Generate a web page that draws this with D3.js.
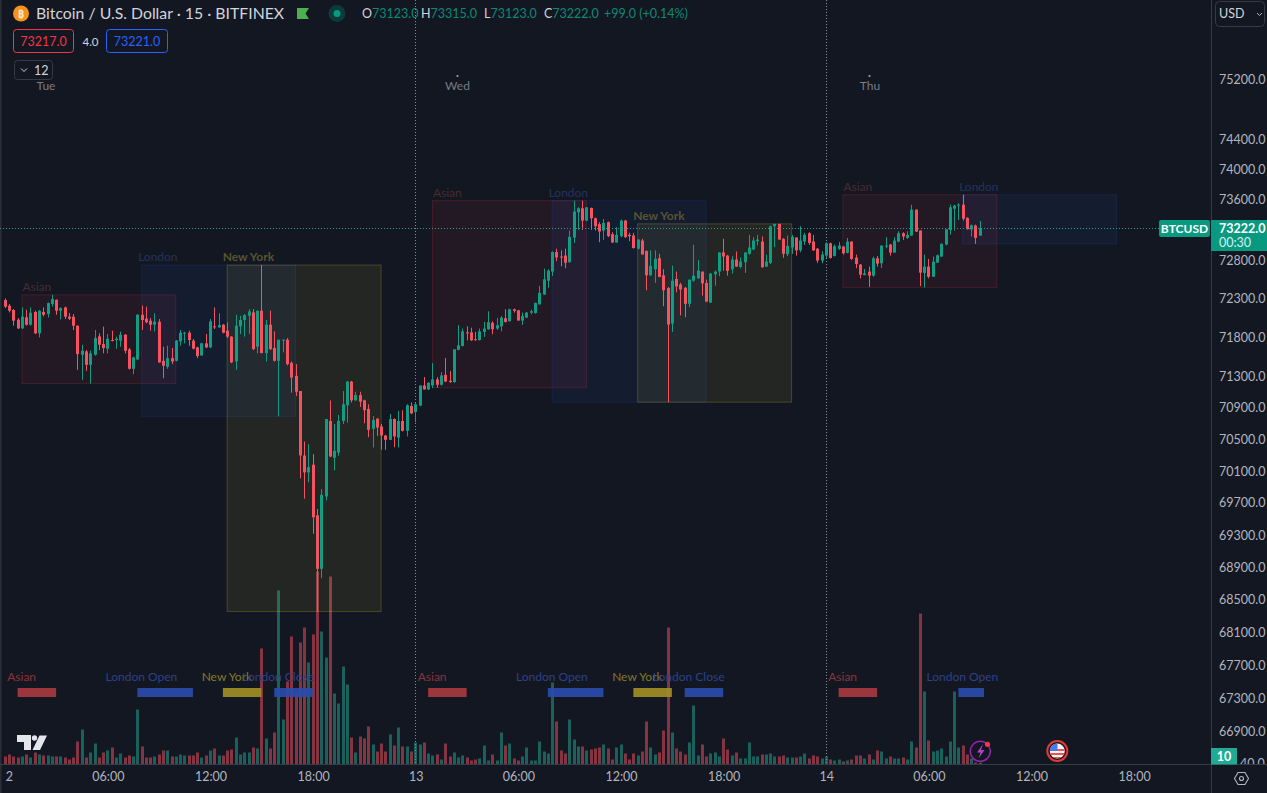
<!DOCTYPE html>
<html>
<head>
<meta charset="utf-8">
<title>BTCUSD 15</title>
<script src="https://cdn.jsdelivr.net/npm/d3@7"></script>
<style>
  html, body { margin: 0; padding: 0; background: #131722; overflow: hidden; }
  text { font-family: Lato, "Noto Sans", sans-serif; }
</style>
</head>
<body>
<main></main>
<script>
const opens = [
  72283,72210,72154,72029,71917,72059,71964,72128,71853,72128,
  72102,72231,72287,72145,72188,72068,72068,71952,71577,71620,
  71448,71577,71814,71715,71655,71767,71767,71758,71835,71646,
  71397,71517,72093,72042,72016,71964,72003,71500,71423,71534,
  71500,71749,71853,71861,71758,71672,71569,71724,71672,71943,
  71930,71964,71887,71810,71491,71943,72025,72080,72124,71681,
  72145,71599,71964,71663,71500,71767,71771,71474,71307,71113,
  70296,70083,70179,69545,68881,69782,70732,70266,70333,70732,
  70932,71233,70994,71061,70994,70885,70632,70761,70662,70548,
  70493,70757,70522,70732,70607,70923,70847,70928,71184,71133,
  71184,71261,71193,71320,71244,71227,71640,71690,71865,71865,
  71776,71767,71871,71905,71988,71914,71943,72048,72009,72163,
  72150,72018,72056,72120,72116,72228,72355,72535,72653,72908,
  72850,72862,72775,73098,73430,73483,73321,73487,73352,73273,
  73190,73300,73142,73033,73116,73321,73133,73125,72952,73059,
  72921,72605,72684,72828,72605,72440,71978,72557,72485,72443,
  72234,72535,72565,72653,72505,72250,72618,72653,72903,72862,
  72684,72810,72714,72775,72885,72941,73050,73046,72718,72766,
  73247,73278,73081,72880,72968,73098,72930,73046,73155,73046,
  72952,72796,72862,73023,72857,72949,72980,72897,73045,72835,
  72744,72608,72652,72600,72827,72761,72984,73006,72901,73045,
  73155,73093,73124,73465,73190,72635,72718,72586,72770,72849,
  73006,73198,73478,73517,73530,73356,73203,73255,73123
];
const highs = [
  72304,72231,72167,72050,72188,72158,72188,72145,72154,72188,
  72252,72351,72291,72188,72197,72115,72102,71952,71706,71638,
  71629,71896,71853,71939,71844,71887,71810,71874,71844,71663,
  71552,72102,72210,72197,72050,72111,72037,71681,71693,71663,
  71767,71896,71874,71887,71780,71681,71732,71844,72038,72188,
  72111,71973,71995,71818,72093,72080,72102,72166,72166,72145,
  72738,72025,72145,71878,71771,71775,71792,71491,71457,71113,
  70472,70438,70313,69624,69874,70757,70994,70694,70808,71113,
  71242,71242,71104,71104,71003,70944,70795,70769,70694,70556,
  70820,70766,70860,70869,70944,70968,70960,71184,71291,71227,
  71471,71291,71355,71535,71368,71647,71957,71914,71943,71926,
  71871,71914,72000,72138,72009,72052,72074,72163,72172,72172,
  72155,72120,72130,72159,72250,72466,72692,72684,72917,72952,
  72930,72952,73190,73583,73496,73583,73496,73492,73361,73300,
  73343,73308,73168,73234,73335,73330,73160,73160,73072,73081,
  72930,72930,72930,72885,72684,72453,72731,72653,72507,72453,
  72548,73002,72806,72653,72548,72636,72666,72903,73081,72871,
  72854,72915,72836,72906,73133,73103,73133,73112,72873,73256,
  73278,73278,73090,73125,73133,73103,73247,73160,73168,73133,
  72961,72919,73037,73032,73006,73041,72989,73093,73050,72875,
  72752,72687,72718,72849,72857,72993,73102,73015,73102,73181,
  73168,73181,73530,73469,73190,72875,72818,72849,72875,73023,
  73211,73530,73530,73552,73661,73364,73268,73268,73315
];
const lows = [
  72179,72123,71952,71908,71908,71952,71952,71844,71801,72072,
  72059,72197,72093,72033,72037,72025,71896,71384,71255,71371,
  71208,71565,71638,71595,71595,71749,71655,71681,71595,71388,
  71328,71509,71896,71982,71887,71878,71474,71276,71397,71457,
  71491,71693,71724,71693,71646,71534,71565,71663,71663,71909,
  71921,71853,71792,71470,71384,71844,71810,71844,71638,71595,
  71595,71491,71638,71491,70790,71608,71440,71092,71048,70009,
  69753,69958,69315,68355,68764,69731,70274,70107,70292,70694,
  70710,70968,70990,70910,70703,70527,70396,70544,70367,70367,
  70489,70400,70396,70599,70536,70820,70716,70920,71133,71125,
  71150,71155,71184,71227,71218,71218,71636,71686,71763,71755,
  71759,71759,71806,71897,71841,71897,71879,71992,72005,72120,
  72015,71962,72050,72100,72107,72224,72350,72443,72595,72790,
  72722,72696,72770,73028,73199,73199,73312,73199,73190,73037,
  73068,73103,73028,73028,73103,73094,73050,72952,72943,72873,
  72410,72600,72506,72579,72203,70971,71871,72385,72083,72061,
  72190,72522,72557,72341,72255,72246,72470,72592,72666,72600,
  72627,72714,72696,72636,72873,72937,72994,72701,72714,72753,
  72972,73068,72832,72854,72885,72862,72906,73002,73002,72924,
  72766,72761,72831,72822,72849,72936,72875,72892,72805,72696,
  72565,72604,72455,72586,72718,72700,72958,72862,72897,73037,
  73067,73080,73120,73172,72464,72447,72565,72582,72766,72844,
  72997,73137,73190,73329,73321,73203,73111,73015,73123
];
const closes = [
  72197,72145,72016,71917,72068,71964,72119,71853,72145,72093,
  72244,72296,72145,72179,72068,72042,71952,71586,71629,71448,
  71595,71792,71706,71663,71784,71758,71784,71835,71629,71397,
  71543,72093,72025,71994,71964,72003,71478,71436,71534,71491,
  71758,71861,71861,71767,71655,71560,71724,71672,72007,71930,
  71960,71861,71810,71479,71952,72025,72089,72136,71650,72145,
  71599,71964,71650,71500,71771,71771,71457,71285,71104,70296,
  70083,70150,69520,68881,69802,70757,70283,70354,70732,70944,
  71233,70994,71061,70977,70869,70620,70744,70649,70548,70493,
  70757,70536,70732,70607,70932,70828,70944,71184,71133,71218,
  71261,71193,71312,71235,71227,71647,71698,71879,71857,71763,
  71767,71879,71914,71996,71905,71957,72056,72000,72163,72142,
  72018,72075,72120,72138,72246,72376,72553,72666,72908,72838,
  72842,72768,73107,73440,73483,73321,73496,73352,73247,73177,
  73291,73116,73033,73133,73321,73103,73116,72961,73072,72877,
  72605,72727,72819,72583,72410,71965,72535,72460,72420,72234,
  72548,72600,72666,72500,72264,72627,72653,72903,72850,72662,
  72810,72718,72784,72903,72968,73059,73072,72710,72784,73247,
  73278,73072,72885,72989,73107,72930,73059,73133,73028,72930,
  72797,72875,73023,72831,72984,72993,72892,73045,72818,72752,
  72613,72630,72600,72827,72757,72993,72993,72901,73058,73155,
  73111,73133,73465,73176,72639,72718,72586,72783,72866,73015,
  73207,73495,73517,73530,73347,73207,73259,73093,73222
];
const volumes = [
  8,10,8,7,8,10,7,12,10,9,
  9,8,8,8,7,5,7,23,35,7,
  12,21,7,12,14,17,7,11,7,9,
  8,55,18,7,7,8,10,14,14,8,
  8,10,9,9,9,12,7,9,14,16,
  9,9,14,15,27,10,12,12,17,16,
  116,26,16,32,174,45,83,128,71,122,
  137,102,130,193,133,107,188,71,61,98,
  80,27,12,28,26,38,20,13,21,13,
  30,19,37,18,18,13,22,20,22,11,
  9,10,5,21,8,12,7,9,7,4,
  5,6,19,4,10,4,32,19,21,6,
  4,8,17,4,4,23,13,11,82,43,
  14,11,45,25,18,18,14,15,16,17,
  20,16,5,17,20,11,5,11,9,13,
  43,17,10,12,34,137,32,16,13,10,
  22,59,9,20,8,11,12,8,26,15,
  9,12,6,6,22,8,8,10,10,11,
  8,8,9,7,7,7,8,11,6,9,
  8,6,8,5,4,5,3,4,5,9,
  9,6,10,5,14,13,6,8,6,6,
  7,5,23,17,151,73,24,13,14,16,
  8,23,73,17,19,10,6,2,2
];

const priceTicks = [75200,74400,74000,73600,72800,72300,71800,71300,70900,70500,70100,69700,69300,68900,68500,68100,67700,67300,66900];
const timeTicks = ["2024-03-12T00:00Z","2024-03-12T06:00Z","2024-03-12T12:00Z","2024-03-12T18:00Z","2024-03-13T00:00Z","2024-03-13T06:00Z","2024-03-13T12:00Z","2024-03-13T18:00Z","2024-03-14T00:00Z","2024-03-14T06:00Z","2024-03-14T12:00Z","2024-03-14T18:00Z"];
const dayLines = ["2024-03-13T00:00Z","2024-03-14T00:00Z"];
const dayNames = ["Tue","Wed","Thu"];

// session boxes
const boxNames = ["Asian","London","New York","Asian","London","New York","Asian","London"];
const boxStarts = ["2024-03-12T01:00Z","2024-03-12T08:00Z","2024-03-12T13:00Z","2024-03-13T01:00Z","2024-03-13T08:00Z","2024-03-13T13:00Z","2024-03-14T01:00Z","2024-03-14T08:00Z"];
const boxEnds = ["2024-03-12T10:00Z","2024-03-12T17:00Z","2024-03-12T22:00Z","2024-03-13T10:00Z","2024-03-13T17:00Z","2024-03-13T22:00Z","2024-03-14T10:00Z","2024-03-14T17:00Z"];
const boxHighs = [72351,72738,72738,73583,73583,73278,73661,73661];
const boxLows = [71208,70790,68355,71155,70971,70971,72447,73015];

// session strips along the bottom
const stripNames = ["Asian","London Open","New York","London Close","Asian","London Open","New York","London Close","Asian","London Open"];
const stripStarts = ["2024-03-12T00:45Z","2024-03-12T07:45Z","2024-03-12T12:45Z","2024-03-12T15:45Z","2024-03-13T00:45Z","2024-03-13T07:45Z","2024-03-13T12:45Z","2024-03-13T15:45Z","2024-03-14T00:45Z","2024-03-14T07:45Z"];
const stripEnds = ["2024-03-12T03:00Z","2024-03-12T11:00Z","2024-03-12T15:00Z","2024-03-12T18:00Z","2024-03-13T03:00Z","2024-03-13T11:00Z","2024-03-13T15:00Z","2024-03-13T18:00Z","2024-03-14T03:00Z","2024-03-14T09:15Z"];

const w = 1267;
const h = 793;
const axisX = 1211;
const axisY = 764.5;
const upColor = "#0f9d83";
const downColor = "#f7525f";
const axisColor = "#363a45";
const textColor = "#b2b5be";

const boxStyle = {
  "Asian": { fill: "rgba(242,54,69,0.075)", stroke: "rgba(242,54,69,0.2)", text: "#4b2a33", weight: 400, dx: 0 },
  "London": { fill: "rgba(41,98,255,0.065)", stroke: "rgba(41,98,255,0.15)", text: "#24335e", weight: 400, dx: -4 },
  "New York": { fill: "rgba(255,235,59,0.07)", stroke: "rgba(255,235,59,0.2)", text: "#57542e", weight: 700, dx: -5 }
};
const stripStyle = {
  "Asian": { bar: "#a83a40", text: "#8b333b" },
  "London Open": { bar: "#2a4cab", text: "#2e4186" },
  "London Close": { bar: "#2a4cab", text: "#2e4186" },
  "New York": { bar: "#a08e24", text: "#85792a" }
};

const x = d3.scaleUtc()
  .domain([new Date("2024-03-12T00:00Z"), new Date("2024-03-14T00:00Z")])
  .range([5.3, 826.3]);
const y = d3.scaleLog()
  .domain([66900, 75200])
  .range([731.5, 79.5]);
const v = d3.scaleLinear()
  .domain([0, 200])
  .range([axisY, axisY - 200]);

const barTime = i => new Date(Date.UTC(2024, 2, 12) + i * 15 * 60000);
const barX = i => Math.floor(x(barTime(i)));
const isUp = i => closes[i] >= opens[i];

const svg = d3.select("main")
  .append("svg")
  .attr("width", w)
  .attr("height", h)
  .style("display", "block");

const defs = svg.append("defs");
defs.append("clipPath").attr("id", "plotClip")
  .append("rect").attr("x", 0).attr("y", 0).attr("width", axisX).attr("height", axisY);
defs.append("clipPath").attr("id", "timeClip")
  .append("rect").attr("x", 5).attr("y", axisY).attr("width", axisX - 5).attr("height", h - axisY);
defs.append("clipPath").attr("id", "priceClip")
  .append("rect").attr("x", axisX).attr("y", 0).attr("width", w - axisX).attr("height", axisY);
defs.append("clipPath").attr("id", "flagClip")
  .append("circle").attr("cx", 1057.3).attr("cy", 751).attr("r", 7.5);

svg.append("rect").attr("width", w).attr("height", h).attr("fill", "#131722");
svg.append("rect").attr("width", 1.5).attr("height", h).attr("fill", "#2a2e39");

const plot = svg.append("g").attr("clip-path", "url(#plotClip)");

// day separators
plot.selectAll(".day-line")
  .data(dayLines)
  .enter()
  .append("line")
  .attr("class", "day-line")
  .attr("x1", d => Math.floor(x(new Date(d))) + 0.5)
  .attr("x2", d => Math.floor(x(new Date(d))) + 0.5)
  .attr("y1", 0)
  .attr("y2", axisY)
  .attr("stroke", "#8a8d96")
  .attr("stroke-dasharray", "1 2");

// volume
plot.selectAll(".vol")
  .data(volumes)
  .enter()
  .append("rect")
  .attr("class", "vol")
  .attr("x", (d, i) => barX(i) - 1)
  .attr("y", d => v(d))
  .attr("width", 3)
  .attr("height", d => axisY - v(d))
  .attr("fill", (d, i) => isUp(i) ? "rgba(34,171,148,0.5)" : "rgba(247,82,95,0.5)");

// session boxes
plot.selectAll(".box")
  .data(boxNames)
  .enter()
  .append("rect")
  .attr("class", "box")
  .attr("x", (d, i) => x(new Date(boxStarts[i])) - 0.5)
  .attr("y", (d, i) => y(boxHighs[i]))
  .attr("width", (d, i) => x(new Date(boxEnds[i])) - x(new Date(boxStarts[i])))
  .attr("height", (d, i) => y(boxLows[i]) - y(boxHighs[i]))
  .attr("fill", d => boxStyle[d].fill)
  .attr("stroke", d => boxStyle[d].stroke);

plot.selectAll(".box-label")
  .data(boxNames)
  .enter()
  .append("text")
  .attr("class", "box-label")
  .attr("x", (d, i) => x(new Date(boxStarts[i])) + boxStyle[d].dx)
  .attr("y", (d, i) => y(boxHighs[i]) - 4)
  .attr("font-size", 12)
  .attr("font-weight", d => boxStyle[d].weight)
  .attr("fill", d => boxStyle[d].text)
  .text(d => d);

// wicks
plot.selectAll(".wick")
  .data(opens)
  .enter()
  .append("rect")
  .attr("class", "wick")
  .attr("x", (d, i) => barX(i))
  .attr("y", (d, i) => y(highs[i]))
  .attr("width", 1)
  .attr("height", (d, i) => y(lows[i]) - y(highs[i]))
  .attr("fill", (d, i) => isUp(i) ? upColor : downColor);

// bodies
plot.selectAll(".body")
  .data(opens)
  .enter()
  .append("rect")
  .attr("class", "body")
  .attr("x", (d, i) => barX(i) - 1)
  .attr("y", (d, i) => y(Math.max(d, closes[i])))
  .attr("width", 3)
  .attr("height", (d, i) => Math.max(1, Math.abs(y(d) - y(closes[i]))))
  .attr("fill", (d, i) => isUp(i) ? upColor : downColor);

// session strips
plot.selectAll(".strip")
  .data(stripNames)
  .enter()
  .append("rect")
  .attr("class", "strip")
  .attr("x", (d, i) => x(new Date(stripStarts[i])) - 0.5)
  .attr("y", 688)
  .attr("width", (d, i) => x(new Date(stripEnds[i])) - x(new Date(stripStarts[i])))
  .attr("height", 9)
  .attr("fill", d => stripStyle[d].bar)
  .attr("opacity", 0.92);

plot.selectAll(".strip-label")
  .data(stripNames)
  .enter()
  .append("text")
  .attr("class", "strip-label")
  .attr("x", (d, i) => x(new Date(stripStarts[i])) + 3.5)
  .attr("y", 681)
  .attr("text-anchor", "middle")
  .attr("font-size", 12)
  .attr("fill", d => stripStyle[d].text)
  .text(d => d);

// last price line
plot.append("line")
  .attr("x1", 0)
  .attr("x2", 1159)
  .attr("y1", Math.round(y(closes[closes.length - 1])) + 0.5)
  .attr("y2", Math.round(y(closes[closes.length - 1])) + 0.5)
  .attr("stroke", "#2a9d8a")
  .attr("stroke-dasharray", "1 2");

// weekday labels
plot.selectAll(".weekday")
  .data(dayNames)
  .enter()
  .append("text")
  .attr("class", "weekday")
  .attr("x", (d, i) => [46, 457.5, 870][i])
  .attr("y", 90)
  .attr("text-anchor", "middle")
  .attr("font-size", 12)
  .attr("fill", "#787b86")
  .text(d => d);
plot.selectAll(".weekday-dot")
  .data([457.5, 869.5])
  .enter()
  .append("circle")
  .attr("cx", d => d)
  .attr("cy", 76)
  .attr("r", 1.1)
  .attr("fill", "#a3a6af");

// axes
const timeAxis = d3.axisBottom(x)
  .tickValues(timeTicks.map(d => new Date(d)))
  .tickSize(0)
  .tickPadding(8)
  .tickFormat(d => {
    if (d.getUTCHours() === 0) return String(d.getUTCDate());
    return d3.utcFormat("%H:%M")(d);
  });
const timeG = svg.append("g")
  .attr("clip-path", "url(#timeClip)")
  .append("g")
  .attr("transform", `translate(0,${axisY})`)
  .call(timeAxis);
timeG.select(".domain").remove();
timeG.selectAll("text")
  .attr("font-family", null)
  .style("font-size", "12.5px")
  .attr("fill", textColor);

const priceAxis = d3.axisRight(y)
  .tickValues(priceTicks)
  .tickSize(0)
  .tickPadding(8)
  .tickFormat(d3.format(".1f"));
const priceG = svg.append("g")
  .attr("clip-path", "url(#priceClip)")
  .append("g")
  .attr("transform", `translate(${axisX},0)`)
  .call(priceAxis);
priceG.select(".domain").remove();
priceG.selectAll("text")
  .attr("font-family", null)
  .style("font-size", "12.5px")
  .attr("fill", textColor);

// the tick under the volume badge, only its tail shows
svg.append("g").attr("clip-path", "url(#priceClip)")
  .append("text")
  .attr("x", 1240)
  .attr("y", 768)
  .attr("font-size", 12.5)
  .attr("fill", textColor)
  .text("40.0");

svg.append("line").attr("x1", axisX + 0.5).attr("x2", axisX + 0.5).attr("y1", 0).attr("y2", h).attr("stroke", axisColor);
svg.append("line").attr("x1", 0).attr("x2", w).attr("y1", axisY).attr("y2", axisY).attr("stroke", axisColor);

// badges on the price scale
svg.append("rect").attr("x", 1159).attr("y", 220).attr("width", 51).attr("height", 17).attr("rx", 2).attr("fill", "#089981");
svg.append("text").attr("x", 1184.5).attr("y", 233).attr("text-anchor", "middle").attr("font-size", 12).attr("font-weight", 700).attr("fill", "#fff").text("BTCUSD");
svg.append("rect").attr("x", axisX).attr("y", 220).attr("width", 56).attr("height", 31).attr("fill", "#089981");
svg.append("text").attr("x", 1219).attr("y", 233).attr("font-size", 12.5).attr("font-weight", 700).attr("fill", "#fff").text(d3.format(".1f")(closes[closes.length - 1]));
svg.append("text").attr("x", 1219).attr("y", 247).attr("font-size", 12.5).attr("fill", "#d8efeb").text("00:30");
svg.append("rect").attr("x", axisX).attr("y", 748).attr("width", 26).attr("height", 16.5).attr("fill", "#22ab94");
svg.append("text").attr("x", 1224).attr("y", 761).attr("text-anchor", "middle").attr("font-size", 12.5).attr("font-weight", 700).attr("fill", "#fff").text("10");

// currency button
svg.append("rect").attr("x", 1215.5).attr("y", 1.5).attr("width", 49).attr("height", 25).attr("rx", 4).attr("fill", "#131722").attr("stroke", "#363a45");
svg.append("text").attr("x", 1219).attr("y", 18).attr("font-size", 12.5).attr("fill", "#d1d4dc").text("USD");
svg.append("path").attr("d", "M1257 13l2.5 2.5 2.5-2.5").attr("fill", "none").attr("stroke", "#b2b5be");

// header
svg.append("circle").attr("cx", 21).attr("cy", 13.5).attr("r", 8).attr("fill", "#f7931a");
svg.append("text").attr("x", 21).attr("y", 18).attr("text-anchor", "middle").attr("font-size", 11).attr("font-weight", 700).attr("fill", "#fde7c8").text("₿");
svg.append("text").attr("x", 36).attr("y", 19).attr("font-size", 15.8).attr("fill", "#d1d4dc").text("Bitcoin / U.S. Dollar · 15 · BITFINEX");
svg.append("path").attr("d", "M297 8h12l-3.5 5.5 3.5 5.5h-12z").attr("fill", "#4caf50");
svg.append("circle").attr("cx", 337).attr("cy", 13.5).attr("r", 8.5).attr("fill", "#0d3a3a");
svg.append("circle").attr("cx", 337).attr("cy", 13.5).attr("r", 3.5).attr("fill", "#089981");

const ohlcNames = ["O", "H", "L", "C"];
const ohlcValues = [opens, highs, lows, closes].map(a => a[a.length - 1]);
ohlcNames.forEach((n, i) => {
  const t = svg.append("text").attr("x", [362, 421, 484, 544][i]).attr("y", 18).attr("font-size", 12.5);
  t.append("tspan").attr("fill", "#d1d4dc").text(n);
  t.append("tspan").attr("fill", "#0b8a75").text(d3.format(".1f")(ohlcValues[i]));
});
svg.append("text").attr("x", 604).attr("y", 18).attr("font-size", 12.5).attr("fill", "#0b8a75").text("+99.0 (+0.14%)");

svg.append("rect").attr("x", 13.5).attr("y", 29.5).attr("width", 60).attr("height", 23).attr("rx", 3).attr("fill", "#131722").attr("stroke", "#f23645");
svg.append("text").attr("x", 43.5).attr("y", 46).attr("text-anchor", "middle").attr("font-size", 12.5).attr("fill", "#f23645").text("73217.0");
svg.append("text").attr("x", 90.5).attr("y", 46).attr("text-anchor", "middle").attr("font-size", 11.5).attr("fill", "#d1d4dc").text("4.0");
svg.append("rect").attr("x", 106.5).attr("y", 29.5).attr("width", 61).attr("height", 23).attr("rx", 3).attr("fill", "#131722").attr("stroke", "#2962ff");
svg.append("text").attr("x", 137).attr("y", 46).attr("text-anchor", "middle").attr("font-size", 12.5).attr("fill", "#2962ff").text("73221.0");

svg.append("rect").attr("x", 14.5).attr("y", 60.5).attr("width", 38).attr("height", 19).attr("rx", 3).attr("fill", "#131722").attr("stroke", "#363a45");
svg.append("path").attr("d", "M21 68.5l3 3 3-3").attr("fill", "none").attr("stroke", "#d1d4dc");
svg.append("text").attr("x", 34).attr("y", 74.5).attr("font-size", 12.5).attr("fill", "#d1d4dc").text("12");

// logo
const logo = svg.append("g").attr("fill", "#e4e6ec");
logo.append("path").attr("d", "M17 735h14v15h-7v-8h-7z");
logo.append("circle").attr("cx", 34.5).attr("cy", 738).attr("r", 2.7);
logo.append("path").attr("d", "M47 735.5l-7 14.5h-7.5l7-14.5z");

// lightning and flag icons
svg.append("circle").attr("cx", 980.3).attr("cy", 751.3).attr("r", 10).attr("fill", "#131722").attr("fill-opacity", 0.4).attr("stroke", "#8e24aa").attr("stroke-width", 1.5);
svg.append("path").attr("d", "M983 744l-6 8.5h3.5l-2 6 6-8.5h-3.5z").attr("fill", "#ab47bc");
svg.append("circle").attr("cx", 987.5).attr("cy", 744.3).attr("r", 2.6).attr("fill", "#f23645");

svg.append("circle").attr("cx", 1057.3).attr("cy", 751).attr("r", 10).attr("fill", "#131722").attr("stroke", "#e53935").attr("stroke-width", 2);
const flag = svg.append("g").attr("clip-path", "url(#flagClip)");
flag.append("rect").attr("x", 1049).attr("y", 743).attr("width", 17).attr("height", 16).attr("fill", "#f5f5f5");
flag.selectAll(".stripe")
  .data([749, 753, 757])
  .enter()
  .append("rect")
  .attr("class", "stripe")
  .attr("x", 1049)
  .attr("y", d => d)
  .attr("width", 17)
  .attr("height", 2)
  .attr("fill", "#ef5350");
flag.append("rect").attr("x", 1049).attr("y", 743).attr("width", 8.5).attr("height", 8).attr("fill", "#4a79e8");

// settings icon
svg.append("path").attr("d", "M1234.5 778.5l3.5-6h7l3.5 6-3.5 6h-7z").attr("fill", "none").attr("stroke", "#b2b5be").attr("stroke-width", 1.1);
svg.append("circle").attr("cx", 1241.5).attr("cy", 778.5).attr("r", 2).attr("fill", "none").attr("stroke", "#b2b5be").attr("stroke-width", 1.1);
</script>
</body>
</html>
